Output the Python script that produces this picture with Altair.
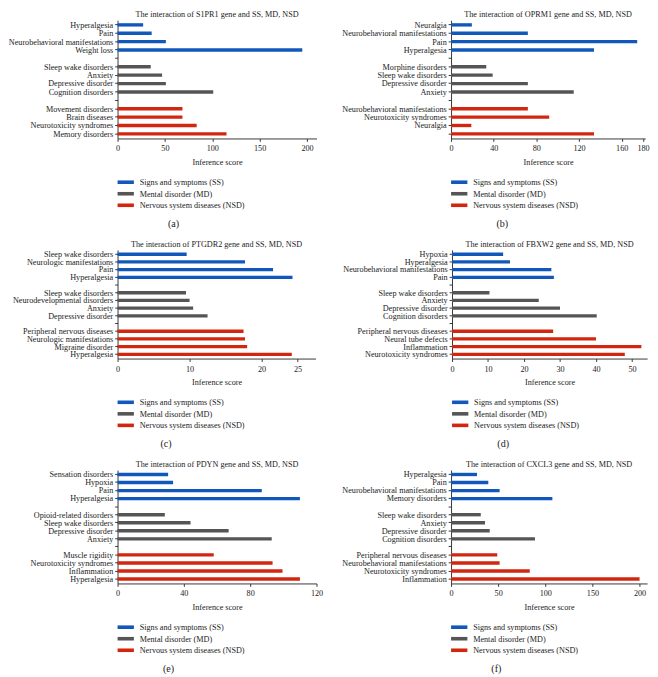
import altair as alt
import pandas as pd

SERIF = "Liberation Serif"
GROUPS = ["Signs and symptoms (SS)", "Mental disorder (MD)", "Nervous system diseases (NSD)"]
COLORS = ["#1258bb", "#555555", "#d3260f"]

# ---- Panel data (top-to-bottom order within each group) ----
a_title = "The interaction of S1PR1 gene and SS, MD, NSD"
a_ss_labels = ["Hyperalgesia", "Pain", "Neurobehavioral manifestations", "Weight loss"]
a_ss_values = [27, 36, 51, 195]
a_md_labels = ["Sleep wake disorders", "Anxiety", "Depressive disorder", "Cognition disorders"]
a_md_values = [35, 47, 51, 101]
a_nsd_labels = ["Movement disorders", "Brain diseases", "Neurotoxicity syndromes", "Memory disorders"]
a_nsd_values = [68.5, 68.5, 83.5, 115]
a_ticks = [0, 50, 100, 150, 200]

b_title = "The interaction of OPRM1 gene and SS, MD, NSD"
b_ss_labels = ["Neuralgia", "Neurobehavioral manifestations", "Pain", "Hyperalgesia"]
b_ss_values = [19.5, 72, 174.5, 134]
b_md_labels = ["Morphine disorders", "Sleep wake disorders", "Depressive disorder", "Anxiety"]
b_md_values = [33, 39, 72, 115]
b_nsd_labels = ["Neurobehavioral manifestations", "Neurotoxicity syndromes", "Neuralgia", ""]
b_nsd_values = [72, 92, 19, 134]
b_ticks = [0, 40, 80, 120, 160, 180]

c_title = "The interaction of PTGDR2 gene and SS, MD, NSD"
c_ss_labels = ["Sleep wake disorders", "Neurologic manifestations", "Pain", "Hyperalgesia"]
c_ss_values = [9.6, 17.7, 21.6, 24.3]
c_md_labels = ["Sleep wake disorders", "Neurodevelopmental disorders", "Anxiety", "Depressive disorder"]
c_md_values = [9.5, 10.0, 10.5, 12.5]
c_nsd_labels = ["Peripheral nervous diseases", "Neurologic manifestations", "Migraine disorder", "Hyperalgesia"]
c_nsd_values = [17.5, 17.7, 18.0, 24.2]
c_ticks = [0, 10, 20, 25]

d_title = "The interaction of FBXW2 gene and SS, MD, NSD"
d_ss_labels = ["Hypoxia", "Hyperalgesia", "Neurobehavioral manifestations", "Pain"]
d_ss_values = [14.2, 16.1, 27.6, 28.3]
d_md_labels = ["Sleep wake disorders", "Anxiety", "Depressive disorder", "Cognition disorders"]
d_md_values = [10.4, 24.1, 30.0, 40.2]
d_nsd_labels = ["Peripheral nervous diseases", "Neural tube defects", "Inflammation", "Neurotoxicity syndromes"]
d_nsd_values = [28.1, 40.0, 52.6, 48.0]
d_ticks = [0, 10, 20, 30, 40, 50]

e_title = "The interaction of PDYN gene and SS, MD, NSD"
e_ss_labels = ["Sensation disorders", "Hypoxia", "Pain", "Hyperalgesia"]
e_ss_values = [30.5, 33.5, 87, 110]
e_md_labels = ["Opioid-related disorders", "Sleep wake disorders", "Depressive disorder", "Anxiety"]
e_md_values = [28.5, 44, 67, 93]
e_nsd_labels = ["Muscle rigidity", "Neurotoxicity syndromes", "Inflammation", "Hyperalgesia"]
e_nsd_values = [58, 93.5, 99.5, 110]
e_ticks = [0, 40, 80, 120]

f_title = "The interaction of CXCL3 gene and SS, MD, NSD"
f_ss_labels = ["Hyperalgesia", "Pain", "Neurobehavioral manifestations", "Memory disorders"]
f_ss_values = [27.5, 39.5, 51.5, 107.5]
f_md_labels = ["Sleep wake disorders", "Anxiety", "Depressive disorder", "Cognition disorders"]
f_md_values = [31.5, 36, 41, 89]
f_nsd_labels = ["Peripheral nervous diseases", "Neurobehavioral manifestations", "Neurotoxicity syndromes", "Inflammation"]
f_nsd_values = [49, 51.5, 83.5, 200]
f_ticks = [0, 50, 100, 150, 200]

FS = 8.5
NB = "\u00a0"
ZW = "\u200b"


def panel(title, caption, ss_l, ss_v, md_l, md_v, nsd_l, nsd_v, ticks, xmax, width, height, indent):
    rows = []
    labels = []
    pos = 0
    for gi, (ls, vs) in enumerate([(ss_l, ss_v), (md_l, md_v), (nsd_l, nsd_v)]):
        for l, v in zip(ls, vs):
            rows.append({"pos": pos, "value": v, "group": GROUPS[gi]})
            labels.append(l)
            pos += 1
        if gi < 2:
            labels.append("")
            pos += 1
    df = pd.DataFrame(rows)
    n = len(labels)
    label_arr = "[" + ",".join("'" + s + "'" for s in labels) + "]"
    return alt.Chart(df).mark_bar(size=3.5).encode(
        x=alt.X("value:Q",
                scale=alt.Scale(domain=[0, xmax], nice=False, zero=True),
                axis=alt.Axis(values=ticks, title="Inference score", grid=False,
                              tickSize=3, labelPadding=3, labelFlush=False,
                              labelOverlap=False, titlePadding=6,
                              format="d")),
        y=alt.Y("pos:O",
                scale=alt.Scale(domain=list(range(n)), paddingInner=0, paddingOuter=0.05),
                axis=alt.Axis(title=None, labelExpr=label_arr + "[datum.value]",
                              tickSize=3, labelPadding=2)),
        color=alt.Color("group:N",
                        scale=alt.Scale(domain=GROUPS, range=COLORS),
                        legend=alt.Legend(orient="bottom", direction="vertical",
                                          title=ZW + NB * indent + caption, titleOrient="bottom",
                                          titleAnchor="start", titleFont=SERIF,
                                          titleFontSize=10.5, titleFontWeight="normal",
                                          titleColor="#222222", titlePadding=10,
                                          symbolType="M-2,-0.44H2V0.44H-2Z", symbolSize=72,
                                          symbolStrokeWidth=0, symbolOffset=4, labelFont=SERIF,
                                          labelFontSize=FS, labelColor="#222222",
                                          labelOffset=10, rowPadding=3, offset=12)),
    ).properties(
        width=width, height=height,
        title=alt.Title(title, font=SERIF, fontSize=FS, fontWeight="normal",
                        color="#222222", offset=2, anchor="middle"),
    )


pa = panel(a_title, "(a)", a_ss_labels, a_ss_values, a_md_labels, a_md_values,
           a_nsd_labels, a_nsd_values, a_ticks, 210, 207, 123, 20)
pb = panel(b_title, "(b)", b_ss_labels, b_ss_values, b_md_labels, b_md_values,
           b_nsd_labels, b_nsd_values, b_ticks, 182, 202, 123, 18)
pc = panel(c_title, "(c)", c_ss_labels, c_ss_values, c_md_labels, c_md_values,
           c_nsd_labels, c_nsd_values, c_ticks, 27.5, 206, 113, 17)
pd_ = panel(d_title, "(d)", d_ss_labels, d_ss_values, d_md_labels, d_md_values,
            d_nsd_labels, d_nsd_values, d_ticks, 54.2, 203, 113, 18)
pe = panel(e_title, "(e)", e_ss_labels, e_ss_values, e_md_labels, e_md_values,
           e_nsd_labels, e_nsd_values, e_ticks, 120, 207, 118, 18)
pf = panel(f_title, "(f)", f_ss_labels, f_ss_values, f_md_labels, f_md_values,
           f_nsd_labels, f_nsd_values, f_ticks, 208, 204, 118, 16)


def row(p1, p2, sp):
    return alt.hconcat(p1, p2, spacing=sp).resolve_scale(
        color="independent", x="independent", y="independent").resolve_legend(color="independent")


chart = alt.vconcat(row(pa, pb, 26), row(pc, pd_, 28), row(pe, pf, 19), spacing=10
).resolve_scale(
    color="independent", x="independent", y="independent").resolve_legend(color="independent"
).properties(padding={"left": 0, "right": 0, "top": -12, "bottom": 0}
).configure_view(stroke=None).configure_axis(
    labelFont=SERIF, titleFont=SERIF, labelFontSize=FS, titleFontSize=FS,
    titleFontWeight="normal", labelColor="#222222", titleColor="#222222",
    domainColor="#333333", tickColor="#333333", domainWidth=1, tickWidth=1,
)

chart.save("out.html", embed_options={"renderer": "svg", "actions": False})
